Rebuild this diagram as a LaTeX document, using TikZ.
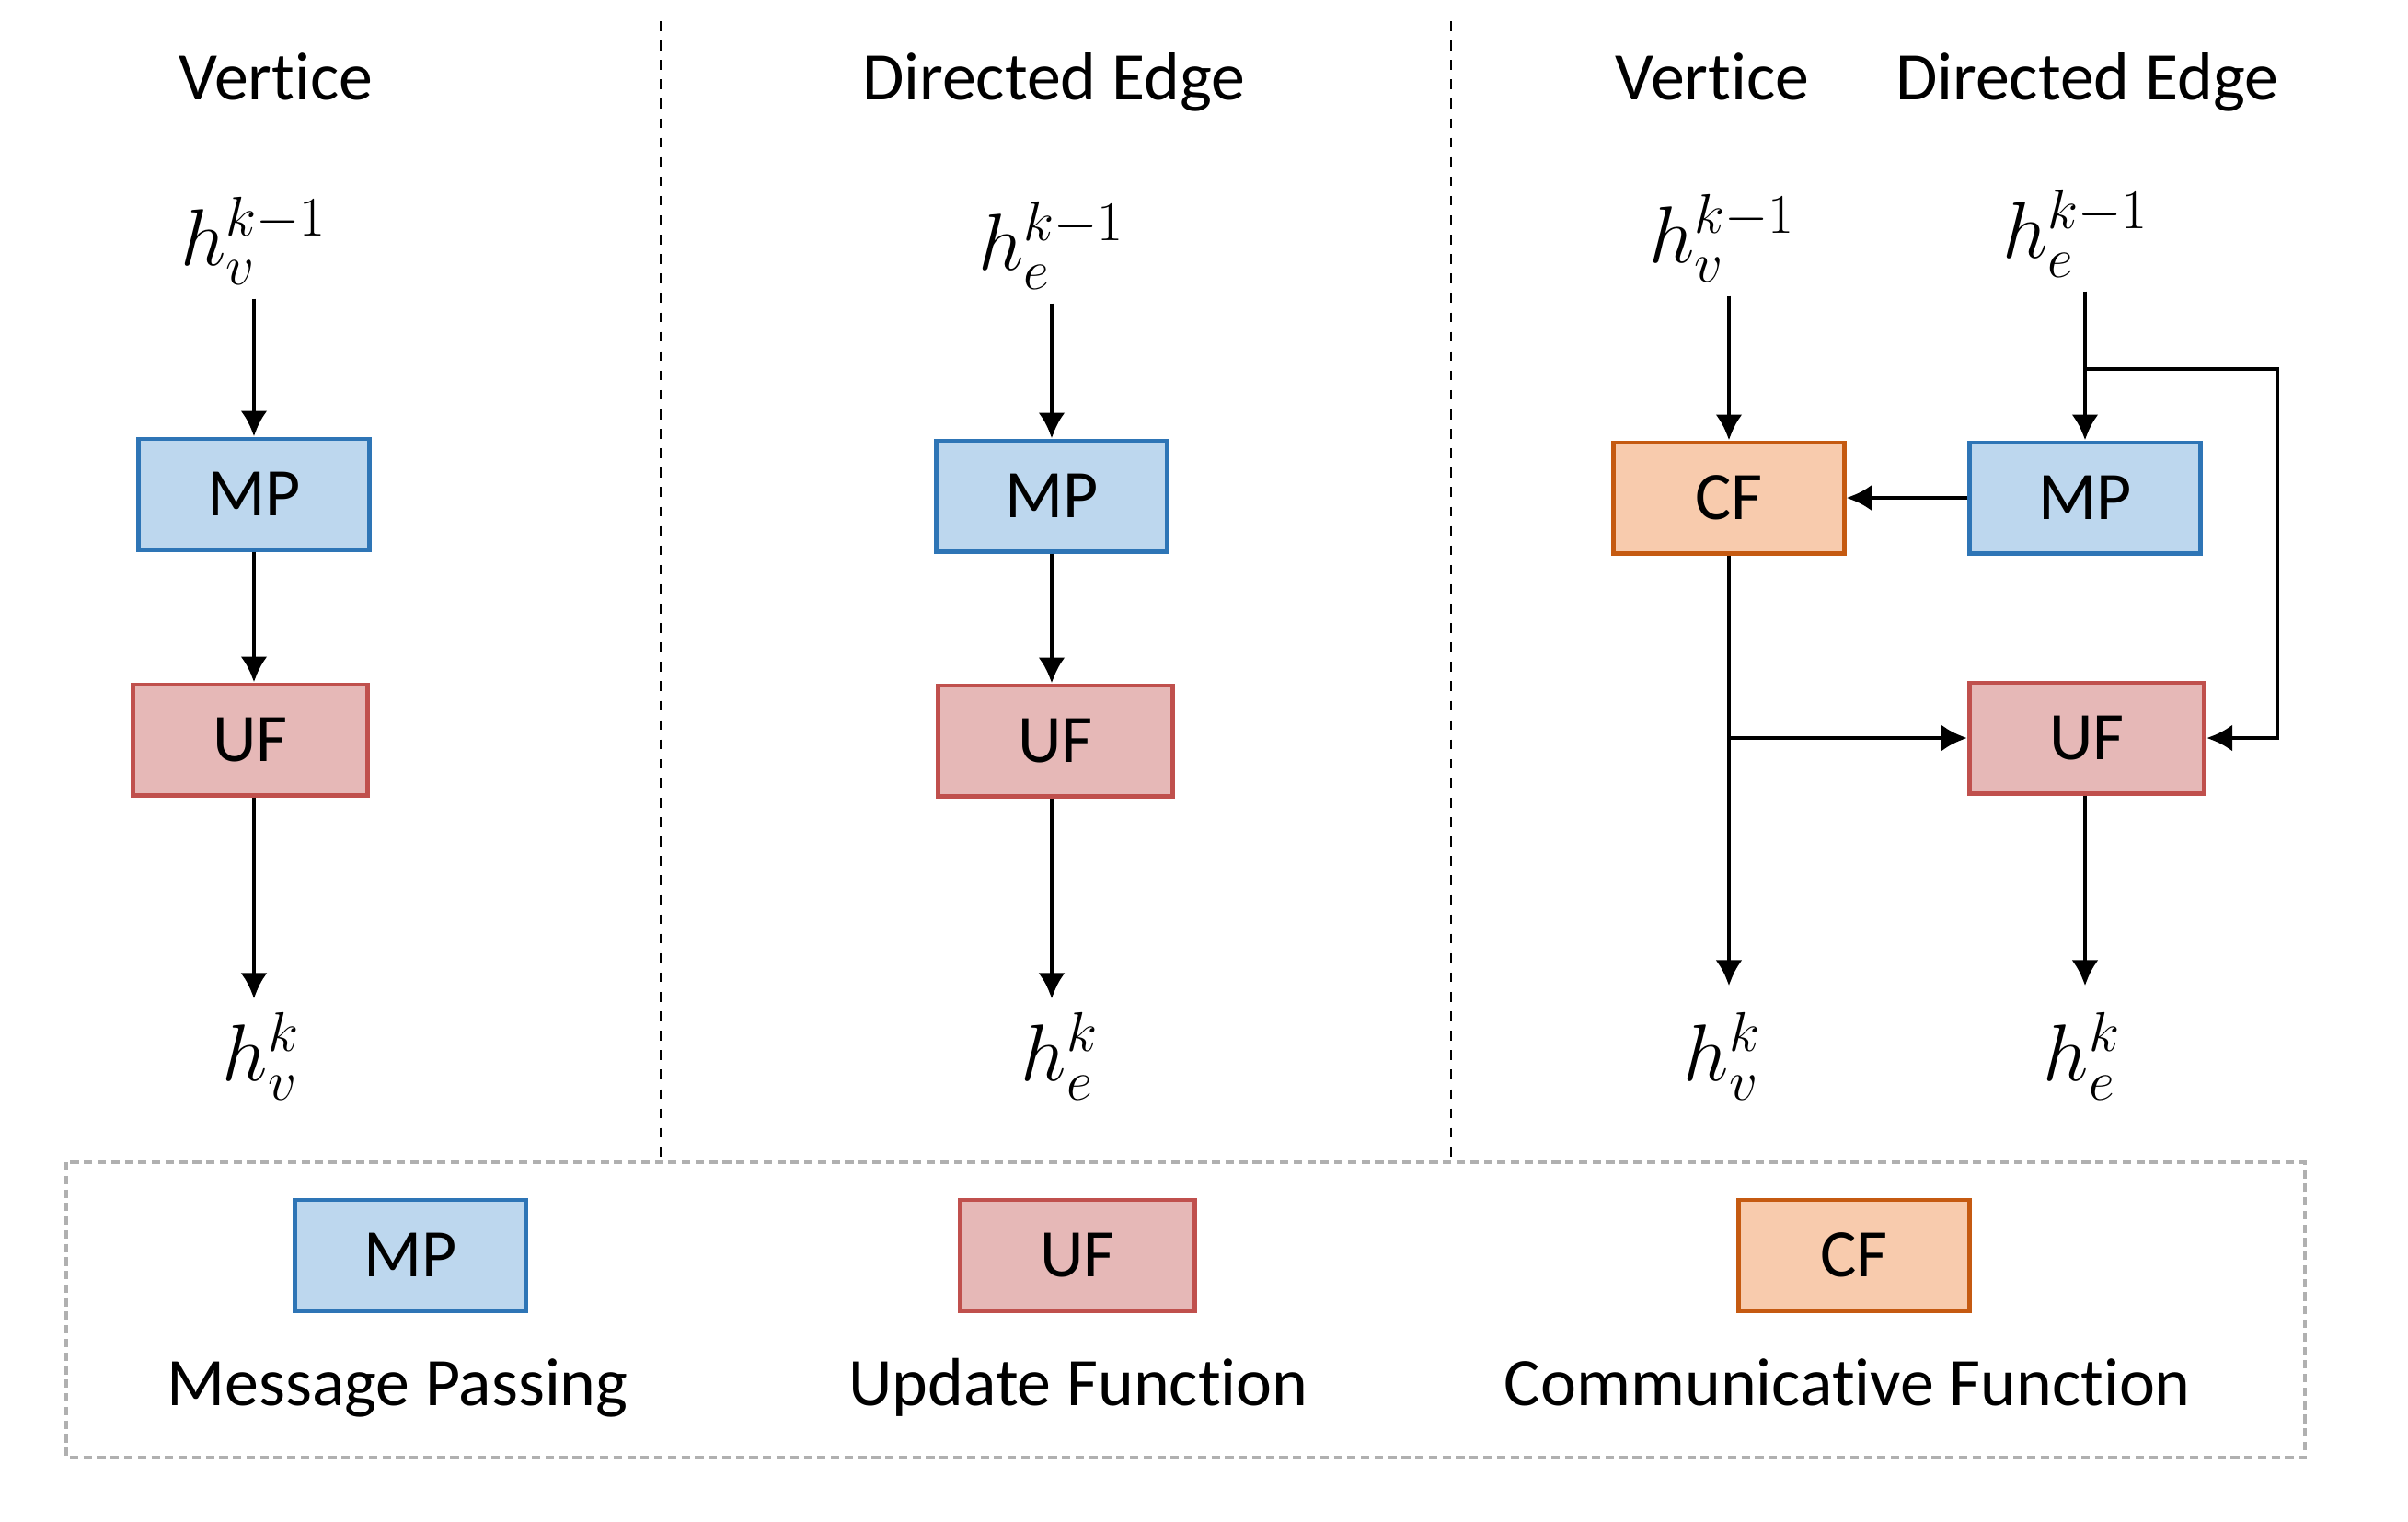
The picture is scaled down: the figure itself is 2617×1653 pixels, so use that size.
\documentclass[tikz,border=0pt]{standalone}
\usepackage{fontspec}
\setmainfont{Carlito}[Ligatures=NoCommon]
\usetikzlibrary{arrows.meta}
\definecolor{mpfill}{HTML}{BDD7EE}
\definecolor{mpline}{HTML}{2E75B6}
\definecolor{uffill}{HTML}{E6B8B7}
\definecolor{ufline}{HTML}{C0504D}
\definecolor{cffill}{HTML}{F8CBAD}
\definecolor{cfline}{HTML}{C55A11}
\definecolor{legendgray}{HTML}{B0B0B0}

\begin{document}
\begin{tikzpicture}[x=0.01cm, y=-0.01cm,
box/.style = {draw, line width=1.4pt, minimum width=#1, minimum height=1.2cm,
              inner sep=0pt, font=\fontsize{21}{25}\selectfont},
box/.default = 2.5cm,   % box width
mpbox/.style = {box, draw=mpline, fill=mpfill},
ufbox/.style = {box=2.55cm, draw=ufline, fill=uffill},
cfbox/.style = {box, draw=cfline, fill=cffill},
lbl/.style = {anchor=base, font=\fontsize{21}{25}\selectfont},
var/.style = {font=\fontsize{24}{28}\selectfont, inner sep=4pt},
arr/.style = {-{Latex[length=2.8mm,width=2.9mm]}, line width=1.35pt},
sep/.style = {dashed, line width=0.5pt}
                ]
    \useasboundingbox (0,0) rectangle (2617,1653);
    % separators and legend frame
    \draw[sep] (718,23) -- (718,1262);
    \draw[sep] (1577,23) -- (1577,1262);
    \draw[legendgray, line width=0.9pt, dash pattern=on 2.6pt off 1.6pt]
        (72,1263) rectangle (2505,1584);
    % titles
    \node[lbl] (t1) at (300,108) {Vertice};
    \node[lbl] (t2) at (1145,108) {Directed Edge};
    \node[lbl] (t3) at (1861,108) {Vertice};
    \node[lbl] (t4) at (2268,108) {Directed Edge};
    % vertice
    \node[var] (hv1) at (276,262) {$h_v^{k-1}$};
    \node[mpbox] (mp1) at (276,537) {MP};
    \node[ufbox] (uf1) at (272,804) {UF};
    \node[var] (hvk1) at (284,1148) {$h_v^{k}$};
    \draw[arr] (hv1) -- (mp1);
    \draw[arr] (mp1) -- (mp1 |- uf1.north);
    \draw[arr] (uf1.south -| mp1) -- (mp1 |- hvk1.north);
    % directed edge
    \node[var] (he2) at (1143,267) {$h_e^{k-1}$};
    \node[mpbox] (mp2) at (1143,539) {MP};
    \node[ufbox] (uf2) at (1147,805) {UF};
    \node[var] (hek2) at (1152,1148) {$h_e^{k}$};
    \draw[arr] (he2) -- (mp2);
    \draw[arr] (mp2) -- (mp2 |- uf2.north);
    \draw[arr] (uf2.south -| mp2) -- (mp2 |- hek2.north);
    % both
    \node[var] (hv3) at (1872,259) {$h_v^{k-1}$};
    \node[var] (he3) at (2256,254) {$h_e^{k-1}$};
    \node[cfbox] (cf3) at (1879,541) {CF};
    \node[mpbox] (mp3) at (2266,541) {MP};
    \node[ufbox] (uf3) at (2268,802) {UF};
    \node[var] (hvk3) at (1872,1148) {$h_v^{k}$};
    \node[var] (hek3) at (2263,1148) {$h_e^{k}$};
    \coordinate (split) at (2266,401);
    \coordinate (loop) at (2475,401);
    \coordinate (join) at (1879,802);
    \draw[arr] (cf3 |- hv3.south) -- (cf3);
    \draw[arr] (mp3 |- he3.south) -- (mp3);
    \draw[arr] (mp3) -- (cf3);
    \draw[arr] (split) -- (loop) |- (uf3.east);
    \draw[arr] (join) -- (uf3.west);
    \draw[arr, shorten >=4pt] (cf3) -- (cf3 |- hvk3.north);
    \draw[arr, shorten >=4pt] (uf3.south -| mp3) -- (mp3 |- hek3.north);
    % legend
    \node[mpbox] (lmp) at (446,1364) {MP};
    \node[ufbox] (luf) at (1171,1364) {UF};
    \node[cfbox] (lcf) at (2015,1364) {CF};
    \node[lbl] (lmpt) at (432,1527) {Message Passing};
    \node[lbl] (luft) at (1172,1527) {Update Function};
    \node[lbl] (lcft) at (2008,1527) {Communicative Function};
\end{tikzpicture}
\end{document}
